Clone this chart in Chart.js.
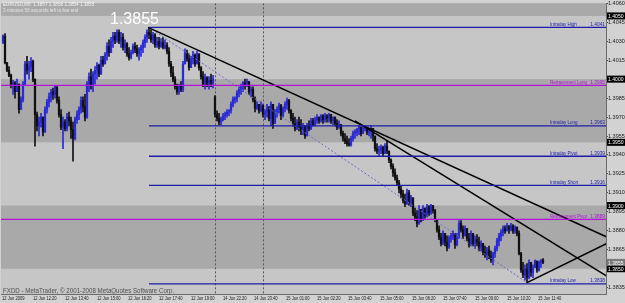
<!DOCTYPE html>
<html>
<head>
<meta charset="utf-8">
<script src="https://cdn.jsdelivr.net/npm/chart.js@4.4.1/dist/chart.umd.min.js"></script>
<style>
  html, body { margin: 0; padding: 0; background: #d2d2d2; }
</style>
</head>
<body>
<canvas id="grafico" width="625" height="303"></canvas>
<script>
// EURUSD M5, 12-15 Jun 2009. Precios en pips por encima de 1.3800
const BASE = 1.38;

const aperturas = [
229,234,213,207,203,195,197,190,196,176,
184,196,212,207,210,214,200,172,163,166,
170,158,176,182,186,190,188,194,183,172,
162,166,161,170,167,160,153,168,172,176,
183,178,170,196,202,195,204,207,211,204,
215,212,219,226,221,230,234,231,237,230,
233,225,228,220,217,221,226,224,220,223,
225,229,233,237,235,231,235,227,230,226,
229,225,227,222,212,205,200,194,190,195,
192,212,221,216,209,216,219,212,220,209,
202,196,201,196,199,197,186,172,169,166,
168,171,172,174,175,180,184,185,189,192,
194,197,195,198,190,192,184,177,180,175,
179,172,174,178,169,180,165,174,176,179,
171,177,180,183,175,169,165,161,166,162,
159,163,155,163,161,167,164,168,170,167,
171,168,171,169,172,167,170,165,162,164,
157,153,151,149,148,153,157,158,160,162,
157,161,162,158,160,161,155,145,143,144,
146,141,147,143,136,131,126,122,118,113,
109,104,101,110,102,106,94,91,86,97,
89,98,92,99,94,100,96,89,81,75,
70,78,71,67,74,76,78,69,75,86,
81,76,82,74,69,78,70,73,71,67,
70,63,61,65,60,57,62,66,72,76,
79,82,80,84,81,84,80,83,78,62,
49,45,50,43,55,47,51,56,49,55,
57];

const maximos = [
235,236,213,210,204,199,198,200,196,186,
198,214,218,214,217,215,200,174,170,173,
170,178,184,189,192,193,195,194,186,176,
170,168,173,174,170,166,170,175,178,186,
186,188,198,205,208,206,210,213,212,218,
218,221,229,231,233,237,237,239,239,237,
236,231,229,225,223,228,229,227,225,227,
231,235,239,241,239,237,236,233,233,232,
233,231,229,225,214,210,202,196,196,198,
214,224,223,220,218,222,220,222,220,210,
206,204,202,202,204,203,187,175,173,170,
173,174,176,176,182,186,186,191,194,196,
198,200,200,198,194,194,186,182,180,182,
180,176,180,178,182,180,176,178,181,180,
178,182,185,184,176,173,170,168,170,168,
165,163,165,167,169,169,170,172,170,172,
172,173,172,173,172,170,170,168,167,164,
159,157,155,153,155,159,160,161,163,162,
162,163,162,161,163,161,155,149,147,148,
147,149,151,143,137,133,129,124,120,116,
112,109,113,112,108,106,98,96,100,97,
100,98,101,100,101,100,97,89,84,78,
80,78,76,76,78,80,78,78,88,88,
84,84,82,78,80,78,76,77,75,72,
70,68,67,68,64,63,68,74,78,81,
84,84,86,84,86,85,84,83,80,63,
55,53,54,57,55,53,57,56,56,57,
58];

const minimos = [
228,212,206,202,193,188,185,190,173,176,
182,195,204,200,206,198,147,159,155,162,
155,158,173,178,182,184,185,181,170,160,
145,159,159,163,153,135,152,165,168,173,
174,167,169,190,192,190,196,200,202,204,
210,212,215,218,221,225,228,229,228,225,
223,221,218,215,216,220,221,218,215,218,
221,225,229,232,229,228,225,225,224,225,
224,224,220,210,202,198,192,188,188,190,
190,212,214,207,209,212,210,212,207,200,
194,192,194,192,194,193,170,167,164,164,
167,168,170,171,173,178,181,182,186,188,
190,192,194,188,186,182,174,176,173,174,
170,168,170,167,163,161,165,170,173,168,
170,174,176,173,167,163,159,160,159,156,
156,153,155,159,160,163,163,165,165,166,
165,166,166,166,165,164,163,160,161,155,
151,149,147,147,147,151,153,155,156,155,
157,159,156,155,153,151,143,141,139,141,
139,141,141,134,129,123,120,116,110,106,
102,99,101,100,99,92,88,83,85,87,
88,90,91,92,93,94,87,79,73,68,
69,68,64,66,71,73,66,68,74,79,
74,76,72,67,68,68,66,68,64,64,
61,59,57,58,55,53,59,64,68,72,
76,78,80,78,80,78,78,76,61,47,
43,41,39,42,44,43,51,47,48,51,
54];

const cierres = [
234,213,207,203,195,197,190,196,176,184,
196,212,207,210,214,200,172,163,166,170,
158,176,182,186,190,188,194,183,172,162,
166,161,170,167,160,153,168,172,176,183,
178,170,196,202,195,204,207,211,204,215,
212,219,226,221,230,234,231,237,230,233,
225,228,220,217,221,226,224,220,223,225,
229,233,237,235,231,235,227,230,226,229,
225,227,222,212,205,200,194,190,195,192,
212,221,216,209,216,219,212,220,209,202,
196,201,196,199,197,200,172,169,166,168,
171,172,174,175,180,184,185,189,192,194,
197,195,198,190,192,184,177,180,175,179,
172,174,178,169,180,165,174,176,179,171,
177,180,183,175,169,165,161,166,162,159,
163,155,163,161,167,164,168,170,167,171,
168,171,169,172,167,170,165,162,164,157,
153,151,149,148,153,157,158,160,162,157,
161,162,158,160,161,155,145,143,144,146,
141,147,143,136,131,126,122,118,113,109,
104,101,110,102,106,94,91,86,97,89,
98,92,99,94,100,96,89,81,75,70,
78,71,67,74,76,78,69,75,86,81,
76,82,74,69,78,70,73,71,67,70,
63,61,65,60,57,62,66,72,76,79,
82,80,84,81,84,80,83,78,62,49,
45,50,43,55,47,51,56,49,55,57,
55];

// eje de tiempo (índice de barra) y etiquetas
const posicionesTiempo = [-0.5, 15, 31, 47, 62.5, 78, 94, 110, 125.5, 141.5, 157, 172.5, 188.5, 204.5, 220, 236, 252, 267.5];
const etiquetasTiempo = ["12 Jun 2009", "12 Jun 12:20", "12 Jun 13:40", "12 Jun 15:00", "12 Jun 16:20", "12 Jun 17:40",
  "12 Jun 19:00", "14 Jun 22:20", "14 Jun 23:40", "15 Jun 01:00", "15 Jun 02:20", "15 Jun 03:40", "15 Jun 05:00",
  "15 Jun 06:20", "15 Jun 07:40", "15 Jun 09:00", "15 Jun 10:20", "15 Jun 11:40"];
const separadoresDia = [106, 130];

// eje de precios
const ticksPrecio = [1.4060, 1.4045, 1.4030, 1.4015, 1.4000, 1.3985, 1.3970, 1.3955, 1.3940, 1.3925, 1.3910, 1.3895, 1.3880, 1.3865, 1.3850, 1.3835];
const preciosMarcados = [1.4050, 1.4000, 1.3950, 1.3900, 1.3850];
const precioActual = 1.3855;
const bandasDesde = [1.4050, 1.3950, 1.3850];
const bandasHasta = [1.4100, 1.4000, 1.3900];

// niveles del día
const nivelesNombre = ["Intraday High", "Retracement Long", "Intraday Long", "Intraday Pivot", "Intraday Short", "Retracement Pivot", "Intraday Low"];
const nivelesPrecio = [1.4041, 1.3995, 1.3963, 1.3939, 1.3916, 1.3889, 1.3838];
const nivelesDesde = [73, -1, 73, 73, 73, -1, 73];
const nivelesTipo = ["intradia", "retroceso", "intradia", "intradia", "intradia", "retroceso", "intradia"];

// líneas de tendencia: [barra inicio, precio inicio, barra fin, precio fin]
const tendencias = [
  [72.5, 1.4041, 302, 1.3875],
  [176, 1.3967, 302, 1.3844],
  [262, 1.3839, 302, 1.3870]
];
const tendenciaPunteada = [73, 1.4041, 262, 1.3839];

const X_MIN = -1, X_MAX = 301.5;
const AZUL_VELA = '#2a2ad6', NEGRO_VELA = '#111111';
const COLOR_NIVEL = { intradia: '#1c1ca8', retroceso: '#b313d8' };
const FUENTE = "'Liberation Sans', Arial, sans-serif";

function precio(p) { return +(BASE + p / 10000).toFixed(4); }

// texto estrecho, como la fuente de MetaTrader
function textoEstrecho(ctx, txt, x, y, factor) {
  ctx.save();
  ctx.translate(x, y);
  ctx.scale(factor, 1);
  ctx.fillText(txt, 0, 0);
  ctx.restore();
}

const colores = aperturas.map((o, i) => cierres[i] > o ? AZUL_VELA : NEGRO_VELA);
const mechas = maximos.map((h, i) => ({ x: i, y: [precio(minimos[i]), precio(h)] }));
const cuerpos = aperturas.map((o, i) => ({ x: i, y: [precio(o), precio(cierres[i])] }));

const datasets = [
  { type: 'bar', data: mechas, backgroundColor: colores, barThickness: 1, grouped: false, order: 2 },
  { type: 'bar', data: cuerpos, backgroundColor: colores, barThickness: 1.6, grouped: false, order: 1 }
];

nivelesPrecio.forEach((p, k) => {
  datasets.push({
    type: 'line', data: [{ x: nivelesDesde[k], y: p }, { x: X_MAX, y: p }],
    borderColor: COLOR_NIVEL[nivelesTipo[k]], borderWidth: 1.3, pointRadius: 0, order: 0
  });
});
tendencias.forEach(t => {
  datasets.push({
    type: 'line', data: [{ x: t[0], y: t[1] }, { x: t[2], y: t[3] }],
    borderColor: '#000000', borderWidth: 1.5, pointRadius: 0, order: 0
  });
});
datasets.push({
  type: 'line', data: [{ x: tendenciaPunteada[0], y: tendenciaPunteada[1] }, { x: tendenciaPunteada[2], y: tendenciaPunteada[3] }],
  borderColor: '#6b6bc8', borderWidth: 1, borderDash: [2, 2], pointRadius: 0, order: 0
});

const decoracion = {
  id: 'decoracion',
  beforeDraw(chart) {
    const { ctx, chartArea: a, scales: { x, y } } = chart;
    ctx.save();
    ctx.fillStyle = '#d2d2d2';
    ctx.fillRect(0, 0, chart.width, chart.height);
    ctx.fillStyle = '#c6c6c6';
    ctx.fillRect(a.left, a.top, a.width, a.height);
    ctx.beginPath();
    ctx.rect(a.left, a.top, a.width, a.height);
    ctx.clip();
    ctx.fillStyle = '#a9a9a9';
    bandasDesde.forEach((lo, k) => {
      const y1 = y.getPixelForValue(bandasHasta[k]);
      const y2 = y.getPixelForValue(lo);
      ctx.fillRect(a.left, y1, a.width, y2 - y1);
    });
    ctx.strokeStyle = '#555555';
    ctx.lineWidth = 1;
    ctx.setLineDash([2, 2]);
    separadoresDia.forEach(i => {
      const px = Math.round(x.getPixelForValue(i)) + 0.5;
      ctx.beginPath();
      ctx.moveTo(px, a.top);
      ctx.lineTo(px, a.bottom);
      ctx.stroke();
    });
    ctx.restore();
  },
  afterDraw(chart) {
    const { ctx, chartArea: a, scales: { x, y } } = chart;
    ctx.save();
    // etiquetas de tiempo
    ctx.font = "6px " + FUENTE;
    ctx.fillStyle = '#202020';
    ctx.textAlign = 'left';
    ctx.textBaseline = 'middle';
    x.ticks.forEach((t, i) => {
      textoEstrecho(ctx, etiquetasTiempo[i], x.getPixelForValue(t.value), 298.5, 0.68);
    });
    // textos de niveles
    ctx.textBaseline = 'alphabetic';
    nivelesPrecio.forEach((p, k) => {
      const py = y.getPixelForValue(p) - 1.5;
      ctx.fillStyle = COLOR_NIVEL[nivelesTipo[k]];
      ctx.textAlign = 'left';
      textoEstrecho(ctx, nivelesNombre[k], 550, py, 0.75);
      ctx.textAlign = 'right';
      textoEstrecho(ctx, p.toFixed(4), 605, py, 0.8);
    });
    // marcas en el eje de precios
    ctx.textAlign = 'left';
    ctx.textBaseline = 'middle';
    const caja = (p, fondo) => {
      const py = y.getPixelForValue(p);
      ctx.fillStyle = fondo;
      ctx.fillRect(a.right + 1, py - 3.5, 625 - a.right - 1, 7);
      ctx.fillStyle = '#ffffff';
      textoEstrecho(ctx, p.toFixed(4), a.right + 2, py + 0.5, 0.85);
    };
    preciosMarcados.forEach(p => caja(p, '#000000'));
    caja(precioActual, '#7a7a7a');
    // cabecera
    ctx.font = "6px " + FUENTE;
    ctx.textBaseline = 'top';
    ctx.fillStyle = '#f4f4f4';
    textoEstrecho(ctx, "EURUSD,M5  1.3857 1.3858 1.3854 1.3855", 3, 1, 0.78);
    ctx.fillStyle = '#e6e6e6';
    textoEstrecho(ctx, "3 minutes 56 seconds left to bar end", 3, 7.5, 0.78);
    ctx.font = "16px " + FUENTE;
    ctx.fillStyle = '#ffffff';
    ctx.textBaseline = 'alphabetic';
    ctx.fillText("1.3855", 110, 24);
    ctx.font = "6.5px " + FUENTE;
    ctx.fillStyle = '#505050';
    textoEstrecho(ctx, "FXDD - MetaTrader, \u00A9 2001-2008 MetaQuotes Software Corp.", 3, 292.5, 0.95);
    ctx.restore();
  }
};

new Chart(document.getElementById('grafico'), {
  type: 'bar',
  data: { datasets },
  options: {
    responsive: false,
    animation: false,
    devicePixelRatio: 1,
    layout: { padding: { left: 1, top: 1, right: 0, bottom: 0 } },
    plugins: { legend: { display: false }, tooltip: { enabled: false } },
    scales: {
      x: {
        type: 'linear', min: X_MIN, max: X_MAX, offset: false,
        grid: { drawOnChartArea: false, drawTicks: true, tickLength: 1, color: '#505050', offset: false },
        border: { display: true, color: '#6a6a6a' },
        afterBuildTicks: s => { s.ticks = posicionesTiempo.map(v => ({ value: v })); },
        afterFit: s => { s.height = 9; },
        ticks: { display: false, autoSkip: false, maxRotation: 0, minRotation: 0 }
      },
      y: {
        type: 'linear', position: 'right', min: 1.3830, max: 1.4060,
        grid: { drawOnChartArea: false, tickLength: 2, color: '#505050' },
        border: { display: true, color: '#6a6a6a' },
        afterBuildTicks: s => { s.ticks = ticksPrecio.map(v => ({ value: v })); },
        afterFit: s => { s.width = 19; },
        ticks: {
          padding: 0, color: '#202020', font: { family: FUENTE, size: 5.5 },
          callback: v => v.toFixed(4)
        }
      }
    }
  },
  plugins: [decoracion]
});
</script>
</body>
</html>
